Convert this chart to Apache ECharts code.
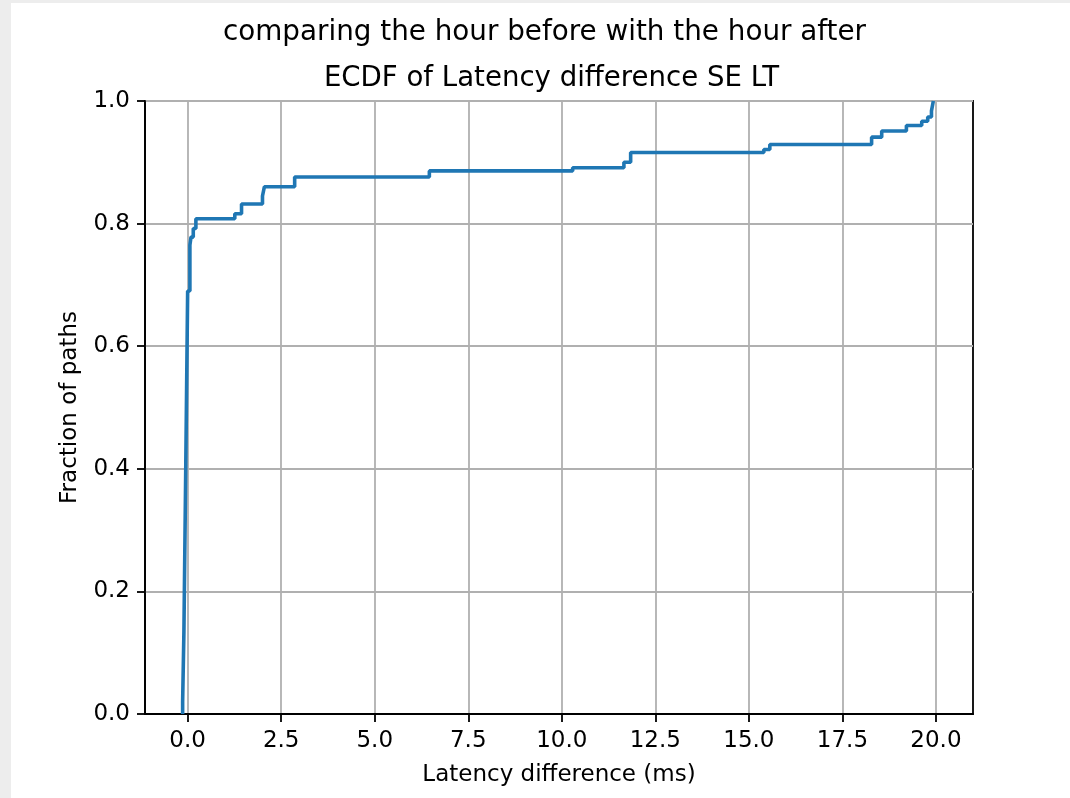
<!DOCTYPE html>
<html>
<head>
<meta charset="utf-8">
<script src="https://cdn.jsdelivr.net/npm/echarts@6/dist/echarts.min.js"></script>
<style>
  html, body { margin: 0; padding: 0; background: #ededed; width: 1070px; height: 798px; overflow: hidden; }
  #chart { position: absolute; left: 11px; top: 3px; width: 1059px; height: 795px; background: #ffffff; }
</style>
</head>
<body>
<div id="chart"></div>
<script>
// ECDF jump points
const latencyMs = [-0.134, -0.134, -0.10, -0.05, 0.0, 0.06, 0.09, 0.15, 0.22, 1.26, 1.44, 2.0, 2.05, 2.86, 6.46, 10.29, 11.66, 11.84, 15.4, 15.56, 18.28, 18.55, 19.21, 19.62, 19.78, 19.88, 19.93];
const fraction  = [0, 0.02, 0.134, 0.406, 0.69, 0.765, 0.778, 0.792, 0.808, 0.816, 0.832, 0.845, 0.86, 0.876, 0.886, 0.891, 0.9, 0.916, 0.921, 0.929, 0.941, 0.951, 0.96, 0.967, 0.974, 0.984, 1.0];
const xTicks = [0, 2.5, 5, 7.5, 10, 12.5, 15, 17.5, 20];
const yTicks = [0, 0.2, 0.4, 0.6, 0.8, 1.0];
const supTitle = 'comparing the hour before with the hour after';
const axTitle = 'ECDF of Latency difference SE LT';
const xName = 'Latency difference (ms)';
const yName = 'Fraction of paths';

const FONT = 'DejaVu Sans';
const chart = echarts.init(document.getElementById('chart'), null, { renderer: 'canvas' });
const seriesData = latencyMs.map((x, i) => [x, fraction[i]]);

chart.setOption({
  animation: false,
  backgroundColor: '#ffffff',
  textStyle: { fontFamily: FONT, color: '#000' },
  title: [
    { text: supTitle, left: 533.5, textAlign: 'center', padding: 0, top: 16,
      textStyle: { fontFamily: FONT, fontSize: 27.8, fontWeight: 'normal', color: '#000' } },
    { text: axTitle, left: 540.5, textAlign: 'center', padding: 0, top: 62,
      textStyle: { fontFamily: FONT, fontSize: 27.6, fontWeight: 'normal', color: '#000' } }
  ],
  grid: { left: 134, top: 98, right: 97, bottom: 84, show: true, borderColor: '#000', borderWidth: 1.8, backgroundColor: 'transparent' },
  xAxis: {
    type: 'value', min: -1.14, max: 20.99,
    name: xName, nameLocation: 'middle', nameGap: 50,
    nameTextStyle: { fontFamily: FONT, fontSize: 23, color: '#000' },
    axisLine: { show: true, onZero: false, lineStyle: { color: '#000', width: 1.8 } },
    axisTick: { show: true, inside: false, length: 8, customValues: xTicks, lineStyle: { color: '#000', width: 1.8 } },
    axisLabel: { show: true, margin: 16, customValues: xTicks, fontFamily: FONT, fontSize: 23, color: '#000',
      formatter: v => v.toFixed(1) },
    splitLine: { show: true, lineStyle: { color: '#b0b0b0', width: 1.8 } }
  },
  yAxis: {
    type: 'value', min: 0, max: 1, interval: 0.2,
    name: yName, nameLocation: 'middle', nameGap: 63,
    nameTextStyle: { fontFamily: FONT, fontSize: 23, color: '#000' },
    axisLine: { show: true, onZero: false, lineStyle: { color: '#000', width: 1.8 } },
    axisTick: { show: true, inside: false, length: 8, lineStyle: { color: '#000', width: 1.8 } },
    axisLabel: { show: true, margin: 15, fontFamily: FONT, fontSize: 23, color: '#000',
      formatter: v => v.toFixed(1) },
    splitLine: { show: true, lineStyle: { color: '#b0b0b0', width: 1.8 } }
  },
  series: [{
    type: 'line',
    data: seriesData,
    step: 'end',
    showSymbol: false,
    symbol: 'none',
    lineStyle: { color: '#1f77b4', width: 3.6 },
    itemStyle: { color: '#1f77b4' },
    z: 5
  }]
});
</script>
</body>
</html>
